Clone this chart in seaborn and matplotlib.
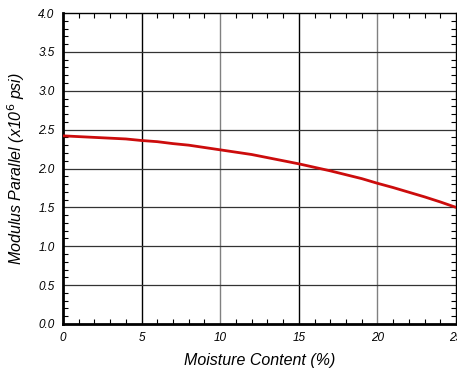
import matplotlib
matplotlib.use("Agg")
import matplotlib.pyplot as plt
import seaborn as sns
import pandas as pd
from matplotlib.ticker import MultipleLocator

moisture = list(range(0, 26))
modulus = [2.42, 2.41, 2.40, 2.39, 2.38, 2.36, 2.345, 2.32, 2.30, 2.27,
           2.24, 2.21, 2.18, 2.14, 2.10, 2.06, 2.015, 1.97, 1.92, 1.87,
           1.81, 1.755, 1.695, 1.635, 1.57, 1.50]
x_ticks = [0, 5, 10, 15, 20, 25]
y_ticks = [0.0, 0.5, 1.0, 1.5, 2.0, 2.5, 3.0, 3.5, 4.0]

sns.set_style("white")
plt.rcParams['font.family'] = ['Liberation Sans', 'DejaVu Sans']
plt.rcParams['text.color'] = 'black'
plt.rcParams['axes.labelcolor'] = 'black'
plt.rcParams['xtick.color'] = 'black'
plt.rcParams['ytick.color'] = 'black'

df = pd.DataFrame({"Moisture": moisture, "Modulus": modulus})

fig = plt.figure(figsize=(4.57, 3.76), dpi=100)
ax = fig.add_axes([63/457, 1-324/376, (456-63)/457, (324-13)/376])

for xv in [5, 10, 15, 20]:
    ax.axvline(xv, color='black' if xv % 10 == 5 else '#808080', lw=1.0, zorder=1)
for yv in [0.5, 1.0, 1.5, 2.0, 2.5, 3.0, 3.5]:
    ax.axhline(yv, color='#333333', lw=0.9, zorder=1)

sns.lineplot(data=df, x="Moisture", y="Modulus", ax=ax, color='#cc0c0c', lw=2.0, zorder=3)

ax.set_xlim(0, 25)
ax.set_ylim(0, 4.0)
ax.set_xticks(x_ticks)
ax.set_yticks(y_ticks)
ax.set_xticklabels([str(t) for t in x_ticks], fontsize=8.5, style='italic')
ax.set_yticklabels([f"{t:.1f}" for t in y_ticks], fontsize=8.5, style='italic')
ax.xaxis.set_minor_locator(MultipleLocator(1))
ax.yaxis.set_minor_locator(MultipleLocator(0.1))
ax.tick_params(which='major', length=0, pad=6)
ax.tick_params(which='minor', direction='in', length=3.5, width=0.8, top=True, right=True,
               bottom=True, left=True, color='black')

ax.set_xlabel("Moisture Content (%)", fontsize=11.5, style='italic', labelpad=6)
ax.set_ylabel("Modulus Parallel (x10$^{6}$ psi)", fontsize=11.5, style='italic', labelpad=8)

for side in ['left', 'bottom']:
    ax.spines[side].set_linewidth(2.0)
    ax.spines[side].set_color('black')
for side in ['top', 'right']:
    ax.spines[side].set_linewidth(1.0)
    ax.spines[side].set_color('black')

fig.savefig("out.png", dpi=100)
